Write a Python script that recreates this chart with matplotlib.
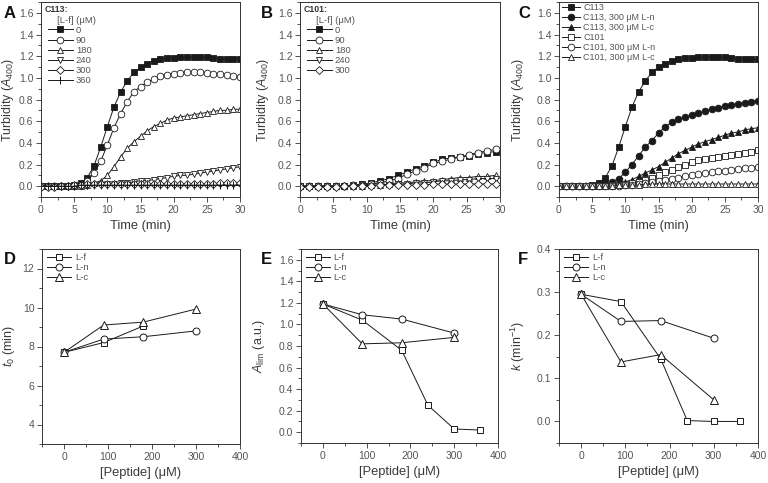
import numpy as np
import matplotlib
matplotlib.use("Agg")
import matplotlib.pyplot as plt
from matplotlib.ticker import MultipleLocator

plt.rcParams['font.family'] = ['Liberation Sans', 'DejaVu Sans']
plt.rcParams['mathtext.fontset'] = 'custom'
plt.rcParams['mathtext.rm'] = 'Liberation Sans'
plt.rcParams['mathtext.it'] = 'Liberation Sans:italic'

# ---- data: panels A-C (turbidity vs time) ----
t_1min = np.arange(0, 31, 1)
t_b = np.arange(23) * 4 / 3

a_labels = ['0', '90', '180', '240', '300', '360']
a_0 = [0, 0, 0, 0, 0, 0.01, 0.03, 0.08, 0.19, 0.36, 0.55, 0.73, 0.87, 0.97, 1.05, 1.10, 1.13, 1.16, 1.17, 1.18,
       1.185, 1.19, 1.19, 1.195, 1.19, 1.19, 1.18, 1.175, 1.17, 1.17, 1.17]
a_90 = [0, 0, 0, 0, 0, 0, 0.01, 0.05, 0.12, 0.23, 0.38, 0.54, 0.67, 0.78, 0.87, 0.92, 0.96, 0.99, 1.02, 1.03,
        1.04, 1.045, 1.05, 1.05, 1.05, 1.045, 1.04, 1.035, 1.03, 1.02, 1.01]
a_180 = [0, 0, 0, 0, 0, 0, 0, 0.01, 0.03, 0.05, 0.10, 0.18, 0.27, 0.35, 0.41, 0.46, 0.51, 0.55, 0.58, 0.61,
         0.63, 0.64, 0.65, 0.66, 0.67, 0.68, 0.69, 0.70, 0.70, 0.71, 0.71]
a_240 = [0, 0, 0, 0, 0, 0, 0, 0, 0.01, 0.01, 0.02, 0.02, 0.03, 0.03, 0.04, 0.05, 0.05, 0.06, 0.07, 0.08,
         0.09, 0.10, 0.10, 0.11, 0.12, 0.13, 0.14, 0.15, 0.16, 0.17, 0.18]
a_300 = [-0.01, -0.01, -0.01, 0, 0, 0.01, 0.01, 0.02, 0.02, 0.02, 0.02, 0.02, 0.02, 0.02, 0.02, 0.02, 0.02, 0.02,
         0.02, 0.02, 0.02, 0.02, 0.02, 0.02, 0.02, 0.02, 0.02, 0.03, 0.03, 0.03, 0.03]
a_360 = [0, 0, 0, 0, 0, 0, 0.01, 0.01, 0.01, 0.01, 0.01, 0.01, 0.01, 0.01, 0.01, 0.01, 0.01, 0.01, 0.01, 0.01,
         0.01, 0.01, 0.01, 0.01, 0.01, 0.01, 0.01, 0.01, 0.01, 0.01, 0.01]

b_labels = ['0', '90', '180', '240', '300']
b_0 = [0, 0, 0, 0, 0, 0, 0.01, 0.02, 0.03, 0.05, 0.07, 0.10, 0.13, 0.16, 0.19, 0.22, 0.25, 0.26, 0.27, 0.28,
       0.30, 0.31, 0.32]
b_90 = [0, 0, 0, 0, 0, 0, 0.01, 0.01, 0.02, 0.03, 0.05, 0.07, 0.11, 0.14, 0.17, 0.21, 0.23, 0.25, 0.27, 0.29,
        0.31, 0.325, 0.34]
b_180 = [0, 0, 0, 0, 0, 0, 0, 0, 0.01, 0.01, 0.02, 0.03, 0.03, 0.04, 0.05, 0.05, 0.06, 0.07, 0.08, 0.08,
         0.09, 0.09, 0.10]
b_240 = [0, 0, 0, 0, 0, 0, 0, 0, 0, 0.01, 0.01, 0.02, 0.02, 0.03, 0.03, 0.04, 0.05, 0.05, 0.06, 0.06,
         0.07, 0.07, 0.07]
b_300 = [-0.01, -0.01, -0.01, -0.01, -0.01, 0, 0, 0, 0, 0.01, 0.01, 0.01, 0.01, 0.01, 0.01, 0.02, 0.02, 0.02,
         0.02, 0.02, 0.02, 0.02, 0.02]

c_labels = ['C113', 'C113, 300 μM L-n', 'C113, 300 μM L-c', 'C101', 'C101, 300 μM L-n', 'C101, 300 μM L-c']
c_113 = a_0
c_113_n = [0, 0, 0, 0, 0, 0, 0.01, 0.02, 0.04, 0.07, 0.13, 0.20, 0.28, 0.36, 0.42, 0.49, 0.55, 0.59, 0.62, 0.64,
           0.66, 0.68, 0.69, 0.71, 0.72, 0.74, 0.75, 0.76, 0.77, 0.78, 0.79]
c_113_c = [0, 0, 0, 0, 0, 0, 0, 0.01, 0.01, 0.02, 0.04, 0.06, 0.09, 0.12, 0.15, 0.18, 0.22, 0.26, 0.30, 0.33,
           0.36, 0.39, 0.41, 0.43, 0.45, 0.47, 0.49, 0.50, 0.52, 0.53, 0.54]
c_101 = [0, 0, 0, 0, 0, 0, 0, 0, 0.01, 0.01, 0.02, 0.03, 0.04, 0.06, 0.08, 0.10, 0.13, 0.15, 0.18, 0.20,
         0.22, 0.24, 0.25, 0.26, 0.27, 0.28, 0.29, 0.30, 0.31, 0.32, 0.33]
c_101_n = [0, 0, 0, 0, 0, 0, 0, 0, 0, 0, 0.01, 0.01, 0.02, 0.03, 0.04, 0.05, 0.06, 0.07, 0.08, 0.09,
           0.10, 0.11, 0.12, 0.13, 0.14, 0.14, 0.15, 0.16, 0.17, 0.17, 0.18]
c_101_c = [0, 0, 0, 0, 0, 0, 0, 0, 0, 0.01, 0.01, 0.01, 0.01, 0.02, 0.02, 0.02, 0.02, 0.02, 0.02, 0.02,
           0.02, 0.02, 0.02, 0.02, 0.02, 0.02, 0.02, 0.02, 0.02, 0.02, 0.02]

# ---- data: panels D-F (fit parameters vs peptide) ----
pep_f = [0, 90, 180, 240, 300, 360]
pep_nc = [0, 90, 180, 300]
t0_f = [7.7, 8.2, 9.05]
t0_n = [7.7, 8.38, 8.5, 8.8]
t0_c = [7.7, 9.1, 9.25, 9.92]
alim_f = [1.19, 1.04, 0.76, 0.25, 0.03, 0.02]
alim_n = [1.19, 1.09, 1.05, 0.92]
alim_c = [1.19, 0.82, 0.83, 0.88]
k_f = [0.295, 0.278, 0.145, 0.002, 0.0, 0.0]
k_n = [0.295, 0.232, 0.234, 0.193]
k_c = [0.295, 0.138, 0.155, 0.05]

TXT = '#555555'
LBL = '#3a3a3a'
LC = '#1a1a1a'

fig = plt.figure(figsize=(7.68, 4.83), dpi=100)


def add_ax(l, r, top, bot):
    return fig.add_axes([l / 768, 1 - bot / 483, (r - l) / 768, (bot - top) / 483])


def style(ax, xmaj, xmin, ymaj, ymin):
    ax.xaxis.set_major_locator(MultipleLocator(xmaj))
    ax.xaxis.set_minor_locator(MultipleLocator(xmin))
    ax.yaxis.set_major_locator(MultipleLocator(ymaj))
    ax.yaxis.set_minor_locator(MultipleLocator(ymin))
    ax.tick_params(which='both', direction='out', top=False, right=False, colors='#333333',
                   labelcolor=TXT, labelsize=7.5, width=0.6)
    ax.tick_params(which='major', length=3.5, pad=2)
    ax.tick_params(which='minor', length=2)
    for s in ax.spines.values():
        s.set_linewidth(0.7)
        s.set_color('#333333')


def leg(ax, handles, labels, anchor, title=None, hl=2.6, fs=6.8):
    lg = ax.legend(handles, labels, loc='upper left', bbox_to_anchor=anchor, frameon=False,
                   fontsize=fs, handlelength=hl, handletextpad=0.35, labelspacing=0.12,
                   borderpad=0.1, borderaxespad=0, title=title, title_fontsize=fs)
    for tx in lg.get_texts():
        tx.set_color(TXT)
    if title:
        lg.get_title().set_color(TXT)
    return lg


def labels(ax, xl, yl, ycoord):
    ax.set_xlabel(xl, fontsize=9.3, color=LBL, labelpad=4)
    ax.set_ylabel(yl, fontsize=9, color=LBL)
    ax.yaxis.set_label_coords(ycoord, 0.5)


lw = 0.7
ms = 4.2
ylab_top = r'Turbidity ($\mathit{A}_{400}$)'

# A
axA = add_ax(41, 240, 2, 197)
hA = []
hA += axA.plot(t_1min, a_0, '-s', color=LC, mfc=LC, mec=LC, ms=ms, lw=lw, mew=0.6)
hA += axA.plot(t_1min, a_90, '-o', color=LC, mfc='white', mec=LC, ms=ms + 0.6, lw=lw, mew=0.6)
hA += axA.plot(t_1min, a_180, '-^', color=LC, mfc='white', mec=LC, ms=ms + 0.6, lw=lw, mew=0.6)
hA += axA.plot(t_1min, a_240, '-v', color=LC, mfc='white', mec=LC, ms=ms + 0.6, lw=lw, mew=0.6)
hA += axA.plot(t_1min, a_300, '-D', color=LC, mfc='white', mec=LC, ms=ms - 0.3, lw=lw, mew=0.6)
hA += axA.plot(t_1min, a_360, '-+', color=LC, mec=LC, ms=ms + 1.5, lw=lw, mew=0.7)
axA.set_xlim(0, 30)
axA.set_ylim(-0.1, 1.7)
style(axA, 5, 2.5, 0.2, 0.1)
labels(axA, 'Time (min)', ylab_top, -0.125)
axA.text(0.02, 0.985, 'C113:', transform=axA.transAxes, fontsize=6.3, fontweight='bold', color='#333333',
         va='top', ha='left')
leg(axA, hA, a_labels, (0.01, 0.935), title='     [L-f] (μM)')

# B
axB = add_ax(300, 500, 2, 197)
hB = []
hB += axB.plot(t_b, b_0, '-s', color=LC, mfc=LC, mec=LC, ms=ms - 0.4, lw=lw, mew=0.6)
hB += axB.plot(t_b, b_90, '-o', color=LC, mfc='white', mec=LC, ms=ms + 0.8, lw=lw, mew=0.6)
hB += axB.plot(t_b, b_180, '-^', color=LC, mfc='white', mec=LC, ms=ms + 0.8, lw=lw, mew=0.6)
hB += axB.plot(t_b, b_240, '-v', color=LC, mfc='white', mec=LC, ms=ms + 0.8, lw=lw, mew=0.6)
hB += axB.plot(t_b, b_300, '-D', color=LC, mfc='white', mec=LC, ms=ms + 0.2, lw=lw, mew=0.6)
axB.set_xlim(0, 30)
axB.set_ylim(-0.1, 1.7)
style(axB, 5, 2.5, 0.2, 0.1)
labels(axB, 'Time (min)', ylab_top, -0.145)
axB.text(0.02, 0.985, 'C101:', transform=axB.transAxes, fontsize=6.3, fontweight='bold', color='#333333',
         va='top', ha='left')
leg(axB, hB, b_labels, (0.01, 0.935), title='     [L-f] (μM)')

# C
axC = add_ax(559, 758, 2, 197)
hC = []
hC += axC.plot(t_1min, c_113, '-s', color=LC, mfc=LC, mec=LC, ms=ms, lw=lw, mew=0.6)
hC += axC.plot(t_1min, c_113_n, '-o', color=LC, mfc=LC, mec=LC, ms=ms + 0.6, lw=lw, mew=0.6)
hC += axC.plot(t_1min, c_113_c, '-^', color=LC, mfc=LC, mec=LC, ms=ms + 0.6, lw=lw, mew=0.6)
hC += axC.plot(t_1min, c_101, '-s', color=LC, mfc='white', mec=LC, ms=ms, lw=lw, mew=0.6)
hC += axC.plot(t_1min, c_101_n, '-o', color=LC, mfc='white', mec=LC, ms=ms + 0.6, lw=lw, mew=0.6)
hC += axC.plot(t_1min, c_101_c, '-^', color=LC, mfc='white', mec=LC, ms=ms + 0.6, lw=lw, mew=0.6)
axC.set_xlim(0, 30)
axC.set_ylim(-0.1, 1.7)
style(axC, 5, 2.5, 0.2, 0.1)
labels(axC, 'Time (min)', ylab_top, -0.165)
leg(axC, hC, c_labels, (0.01, 1.0), hl=2.0, fs=6.5)


def param_panel(ax, yf, yn, yc, xf):
    h = []
    h += ax.plot(xf, yf, '-s', color=LC, mfc='white', mec=LC, ms=4.2, lw=lw, mew=0.7)
    h += ax.plot(pep_nc, yn, '-o', color=LC, mfc='white', mec=LC, ms=5.0, lw=lw, mew=0.7)
    h += ax.plot(pep_nc, yc, '-^', color=LC, mfc='white', mec=LC, ms=5.6, lw=lw, mew=0.7)
    ax.set_xlim(-50, 400)
    leg(ax, h, ['L-f', 'L-n', 'L-c'], (0.02, 0.985))


# D
axD = add_ax(42, 240, 249, 444)
param_panel(axD, t0_f, t0_n, t0_c, pep_f[:3])
axD.set_ylim(3, 13)
style(axD, 100, 50, 2, 1)
labels(axD, '[Peptide] (μM)', r'$\mathit{t}_0$ (min)', -0.125)

# E
axE = add_ax(301, 498, 249, 443)
param_panel(axE, alim_f, alim_n, alim_c, pep_f)
axE.set_ylim(-0.1, 1.7)
style(axE, 100, 50, 0.2, 0.1)
labels(axE, '[Peptide] (μM)', r'$\mathit{A}_{\rm lim}$ (a.u.)', -0.175)

# F
axF = add_ax(559, 758, 249, 443)
param_panel(axF, k_f, k_n, k_c, pep_f)
axF.set_ylim(-0.05, 0.4)
style(axF, 100, 50, 0.1, 0.05)
labels(axF, '[Peptide] (μM)', r'$\mathit{k}$ (min$^{-1}$)', -0.16)

# panel letters
for letter, x, y in [('A', 4, 14), ('B', 261, 14), ('C', 518, 14),
                     ('D', 4, 260), ('E', 261, 260), ('F', 518, 260)]:
    fig.text(x / 768, 1 - y / 483, letter, fontsize=12, fontweight='bold', color='#111111',
             ha='left', va='center')

fig.savefig('out.png', dpi=100)
